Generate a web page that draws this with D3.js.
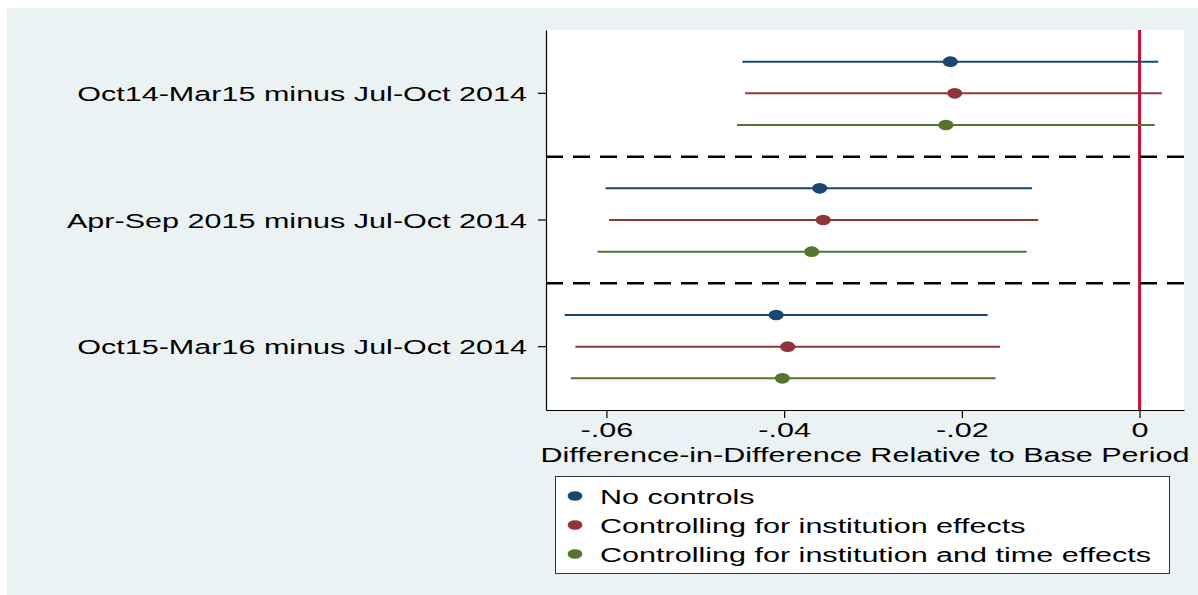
<!DOCTYPE html>
<html>
<head>
<meta charset="utf-8">
<script src="https://cdn.jsdelivr.net/npm/d3@7"></script>
<style>
  html, body { margin: 0; padding: 0; background: #ffffff; }
  svg { display: block; }
  text { font-family: "Liberation Sans", Arial, sans-serif; fill: #000; }
</style>
</head>
<body>
<svg id="chart" width="1198" height="595"></svg>
<script>
// ---------------- data ----------------
const categories = [
  "Oct14-Mar15 minus Jul-Oct 2014",
  "Apr-Sep 2015 minus Jul-Oct 2014",
  "Oct15-Mar16 minus Jul-Oct 2014"
];
const seriesNames = [
  "No controls",
  "Controlling for institution effects",
  "Controlling for institution and time effects"
];
const seriesColors = ["#1a476f", "#90353b", "#55752f"];

// point estimates per series (one value per category)
const estNoControls   = [-0.0213, -0.0360, -0.0409];
const estInstitution  = [-0.0208, -0.0356, -0.0396];
const estInstTime     = [-0.0218, -0.0369, -0.0402];
// lower bounds
const loNoControls    = [-0.0447, -0.0601, -0.0647];
const loInstitution   = [-0.0444, -0.0597, -0.0635];
const loInstTime      = [-0.0453, -0.0610, -0.0640];
// upper bounds
const hiNoControls    = [0.0021, -0.0121, -0.0171];
const hiInstitution   = [0.0025, -0.0114, -0.0157];
const hiInstTime      = [0.0017, -0.0127, -0.0162];

const tickValues = [-0.06, -0.04, -0.02, 0];
const tickLabels = ["-.06", "-.04", "-.02", "0"];
const xTitle = "Difference-in-Difference Relative to Base Period";
const refValue = 0;

// ---------------- build table ----------------
const estimates = [estNoControls, estInstitution, estInstTime];
const lows = [loNoControls, loInstitution, loInstTime];
const highs = [hiNoControls, hiInstitution, hiInstTime];
const rows = [];
seriesNames.forEach((s, si) => {
  categories.forEach((c, ci) => {
    rows.push({ series: s, si, cat: c, est: estimates[si][ci], lo: lows[si][ci], hi: highs[si][ci] });
  });
});

// ---------------- layout ----------------
const SX = 1.455;        // horizontal stretch of glyphs in the reference
const FS = 21;           // font size
const plot = { left: 546, right: 1184, top: 30, bottom: 410 };

const svg = d3.select("#chart");

// outer background
svg.append("rect").attr("x", 7).attr("y", 8).attr("width", 1198 - 7).attr("height", 595 - 8)
  .attr("fill", "#eaf2f3");
// plot region
svg.append("rect").attr("x", plot.left).attr("y", plot.top)
  .attr("width", plot.right - plot.left).attr("height", plot.bottom - plot.top)
  .attr("fill", "#ffffff");

const x = d3.scaleLinear().domain([-0.0668, 0.0050]).range([plot.left, plot.right]);
const y = d3.scaleBand().domain(categories).range([plot.top, plot.bottom]).padding(0);
const ySub = d3.scalePoint().domain(seriesNames).range([0, y.bandwidth()]).padding(1);

// reference line
svg.append("line")
  .attr("x1", x(refValue)).attr("x2", x(refValue))
  .attr("y1", plot.top).attr("y2", plot.bottom)
  .attr("stroke", "#c8102e").attr("stroke-width", 3);

// dashed separators between groups
svg.append("g").selectAll("line").data(categories.slice(1)).join("line")
  .attr("x1", plot.left).attr("x2", plot.right)
  .attr("y1", d => y(d)).attr("y2", d => y(d))
  .attr("stroke", "#000").attr("stroke-width", 2.5)
  .attr("stroke-dasharray", "17,10");

// error bars
const g = svg.append("g");
g.selectAll("line.ci").data(rows).join("line").attr("class", "ci")
  .attr("x1", d => x(d.lo)).attr("x2", d => x(d.hi))
  .attr("y1", d => y(d.cat) + ySub(d.series)).attr("y2", d => y(d.cat) + ySub(d.series))
  .attr("stroke", d => seriesColors[d.si]).attr("stroke-width", 2);
// points
g.selectAll("ellipse.pt").data(rows).join("ellipse").attr("class", "pt")
  .attr("cx", d => x(d.est)).attr("cy", d => y(d.cat) + ySub(d.series))
  .attr("rx", 7.6).attr("ry", 5.3)
  .attr("fill", d => seriesColors[d.si]);

// x axis
const xAxis = svg.append("g").attr("transform", `translate(0,${plot.bottom})`)
  .call(d3.axisBottom(x).tickValues(tickValues).tickFormat((d, i) => tickLabels[i])
    .tickSize(8).tickSizeOuter(0).tickPadding(4));
xAxis.select(".domain").attr("stroke", "#000").attr("stroke-width", 1.2);
xAxis.selectAll(".tick line").attr("stroke", "#000").attr("stroke-width", 1.2);
xAxis.selectAll(".tick text")
  .attr("font-size", FS).attr("font-family", "Liberation Sans, Arial, sans-serif")
  .attr("transform", `scale(${SX},1)`).attr("fill", "#000");

// y axis
const yAxis = svg.append("g").attr("transform", `translate(${plot.left},0)`)
  .call(d3.axisLeft(y).tickSize(8).tickSizeOuter(0));
yAxis.select(".domain").attr("stroke", "#000").attr("stroke-width", 1.2);
yAxis.selectAll(".tick line").attr("stroke", "#000").attr("stroke-width", 1.2);
yAxis.selectAll(".tick text")
  .attr("font-size", FS).attr("font-family", "Liberation Sans, Arial, sans-serif")
  .attr("x", -19 / SX).attr("dy", "0.36em")
  .attr("transform", `scale(${SX},1)`).attr("fill", "#000");

// x title
svg.append("text")
  .attr("transform", `translate(${(plot.left + plot.right) / 2},462) scale(${SX},1)`)
  .attr("text-anchor", "middle").attr("font-size", FS)
  .text(xTitle);

// legend
const legend = svg.append("g");
legend.append("rect").attr("x", 555.5).attr("y", 476.5).attr("width", 614).attr("height", 97)
  .attr("fill", "#fff").attr("stroke", "#333").attr("stroke-width", 1);
const legY = d3.scalePoint().domain(seriesNames).range([496, 554]);
legend.selectAll("ellipse").data(seriesNames).join("ellipse")
  .attr("cx", 575).attr("cy", d => legY(d)).attr("rx", 7.4).attr("ry", 4.8)
  .attr("fill", (d, i) => seriesColors[i]);
legend.selectAll("text").data(seriesNames).join("text")
  .attr("transform", d => `translate(600,${legY(d) + 7.5}) scale(${SX},1)`)
  .attr("font-size", FS)
  .text(d => d);
</script>
</body>
</html>
